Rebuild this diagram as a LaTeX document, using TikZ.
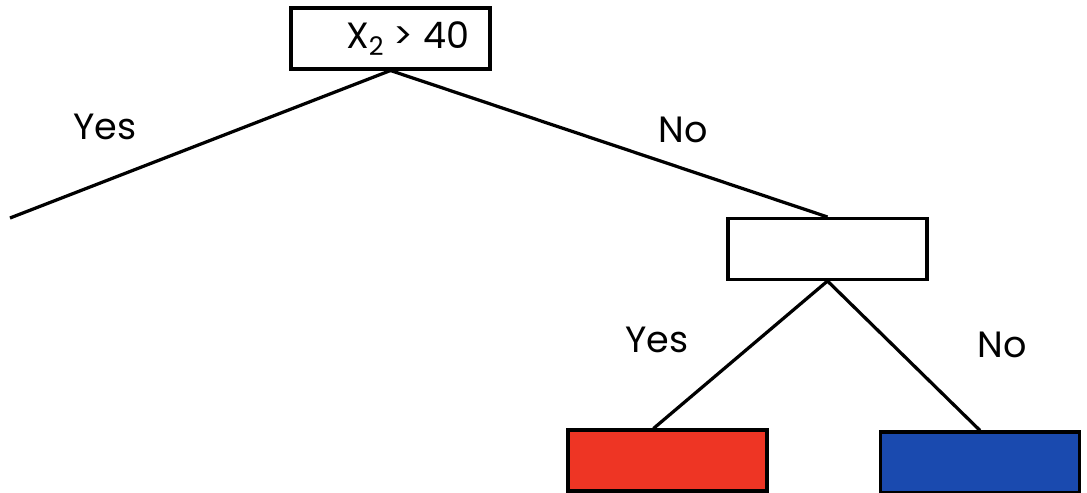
\documentclass[tikz,border=0pt]{standalone}
\usepackage{fontspec}
\setmainfont{Poppins}
\usepackage{xcolor}
\usepackage{tikz}
\usetikzlibrary{positioning,calc}
\definecolor{leafred}{HTML}{EE3524}
\definecolor{leafblue}{HTML}{1A4AAF}
\begin{document}
\begin{tikzpicture}[x=0.025cm,y=-0.025cm,line width=2.3pt,every node/.style={font=\fontsize{26}{28}\selectfont,inner sep=0pt},split/.style={draw,fill=#1,minimum width=4.97cm,minimum height=1.52cm},split/.default=white,branch/.style={font=\fontsize{26}{28}\selectfont}]
\useasboundingbox (0,0) rectangle (1087,493);
\node[split] (root) at (390.5,38.5) {\hspace*{0.86cm}X\textsubscript{2} > 40};
\node[split] (inner) at (827.5,249) {};
\node[split=leafred] (red) at (667.5,460.5) {};
\node[split=leafblue] (blue) at (980,462.5) {};
\coordinate (cut) at (10,218);
\draw (root.south)--(cut);
\draw (root.south)--(inner.north);
\draw (inner.south)--([xshift=-0.35cm]red.north);
\draw (inner.south)--(blue.north);
\node[branch] at (105,127) {Yes};
\node[branch] at (683,130) {No};
\node[branch] at (657,340) {Yes};
\node[branch] at (1002,345) {No};
\end{tikzpicture}
\end{document}
